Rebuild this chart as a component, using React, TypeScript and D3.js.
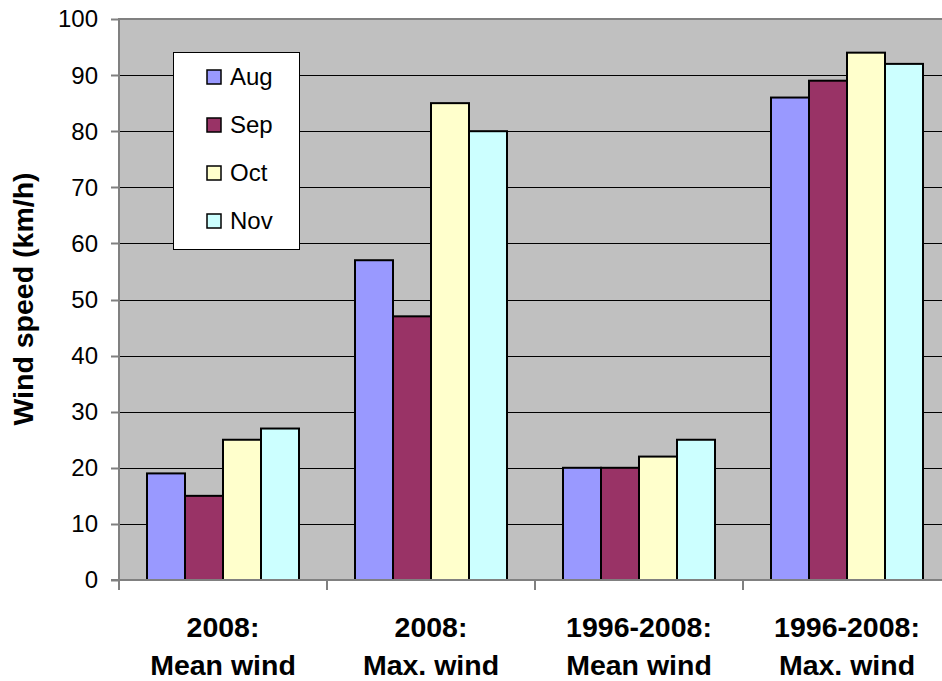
import React, { useMemo } from "react";
import * as d3 from "d3";

// Wind speed observations grouped by period/statistic, one bar per month.
const categories = [
  ["2008:", "Mean wind"],
  ["2008:", "Max. wind"],
  ["1996-2008:", "Mean wind"],
  ["1996-2008:", "Max. wind"],
];
const months = ["Aug", "Sep", "Oct", "Nov"];
const aug = [19, 57, 20, 86];
const sep = [15, 47, 20, 89];
const oct = [25, 85, 22, 94];
const nov = [27, 80, 25, 92];
const seriesValues = [aug, sep, oct, nov];
const seriesColors = ["#9999FF", "#993366", "#FFFFCC", "#CCFFFF"];
const yTicks = [0, 10, 20, 30, 40, 50, 60, 70, 80, 90, 100];

const W = 942;
const H = 681;
const plot = { left: 119, right: 951, top: 19, bottom: 580 };

export default function App() {
  const catKeys = categories.map((_, i) => String(i));

  const x0 = useMemo(
    () =>
      d3
        .scaleBand<string>()
        .domain(catKeys)
        .range([plot.left, plot.right])
        .paddingInner(56 / 208)
        .paddingOuter(28 / 208),
    []
  );
  const x1 = useMemo(
    () => d3.scaleBand<string>().domain(months).range([0, x0.bandwidth()]).padding(0),
    [x0]
  );
  const y = useMemo(
    () => d3.scaleLinear().domain([0, 100]).range([plot.bottom, plot.top]),
    []
  );

  const step = x0.step();
  const boundaries = d3.range(categories.length + 1).map((i) => plot.left + i * step);
  const font = "Arial, 'Liberation Sans', sans-serif";

  return (
    <svg
      width={W}
      height={H}
      style={{ position: "absolute", left: 0, top: 0, background: "#fff" }}
      fontFamily={font}
    >
      <defs>
        <clipPath id="page">
          <rect x={0} y={0} width={W} height={H} />
        </clipPath>
      </defs>
      <g clipPath="url(#page)">
        {/* plot background */}
        <rect
          x={plot.left}
          y={plot.top}
          width={plot.right - plot.left}
          height={plot.bottom - plot.top}
          fill="#C0C0C0"
          stroke="#808080"
          strokeWidth={2}
        />
        {/* horizontal gridlines */}
        {yTicks.slice(1, -1).map((t) => (
          <line
            key={t}
            x1={plot.left}
            x2={plot.right}
            y1={Math.round(y(t)) + 0.5}
            y2={Math.round(y(t)) + 0.5}
            stroke="#000"
            strokeWidth={1}
          />
        ))}
        {/* bars */}
        {catKeys.map((ck, ci) => (
          <g key={ck} transform={`translate(${x0(ck)},0)`}>
            {months.map((m, si) => {
              const v = seriesValues[si][ci];
              return (
                <rect
                  key={m}
                  x={x1(m)}
                  y={y(v)}
                  width={x1.bandwidth()}
                  height={y(0) - y(v)}
                  fill={seriesColors[si]}
                  stroke="#000"
                  strokeWidth={2}
                />
              );
            })}
          </g>
        ))}
        {/* axes lines */}
        <line x1={plot.left} x2={plot.left} y1={plot.top} y2={plot.bottom} stroke="#808080" strokeWidth={2} />
        <line x1={plot.left - 8} x2={plot.right} y1={plot.bottom} y2={plot.bottom} stroke="#808080" strokeWidth={2} />
        {/* y ticks and labels */}
        {yTicks.map((t) => (
          <g key={t}>
            <line
              x1={plot.left - 8}
              x2={plot.left}
              y1={Math.round(y(t)) + 0.5}
              y2={Math.round(y(t)) + 0.5}
              stroke="#808080"
              strokeWidth={2}
            />
            <text x={98} y={y(t)} dy="0.35em" textAnchor="end" fontSize={24} fill="#000">
              {t}
            </text>
          </g>
        ))}
        {/* category boundary ticks */}
        {boundaries.map((bx, i) => (
          <line key={i} x1={bx} x2={bx} y1={plot.bottom} y2={plot.bottom + 10} stroke="#808080" strokeWidth={2} />
        ))}
        {/* category labels */}
        {catKeys.map((ck, ci) => {
          const cx = (x0(ck) as number) + x0.bandwidth() / 2;
          return (
            <text key={ck} x={cx} textAnchor="middle" fontSize={28.5} fontWeight="bold" fill="#000">
              <tspan x={cx} y={637}>
                {categories[ci][0]}
              </tspan>
              <tspan x={cx} y={675}>
                {categories[ci][1]}
              </tspan>
            </text>
          );
        })}
        {/* y axis title */}
        <text
          transform={`translate(33,299) rotate(-90)`}
          textAnchor="middle"
          fontSize={28.5}
          fontWeight="bold"
          fill="#000"
        >
          Wind speed (km/h)
        </text>
        {/* legend */}
        <g>
          <rect x={173.5} y={52.5} width={126} height={197} fill="#fff" stroke="#000" strokeWidth={1} />
          {months.map((m, i) => {
            const cy = 77 + i * 48;
            return (
              <g key={m}>
                <rect x={207} y={cy - 7} width={14} height={14} fill={seriesColors[i]} stroke="#000" strokeWidth={1.5} />
                <text x={230} y={cy} dy="0.35em" fontSize={24} fill="#000">
                  {m}
                </text>
              </g>
            );
          })}
        </g>
      </g>
    </svg>
  );
}
